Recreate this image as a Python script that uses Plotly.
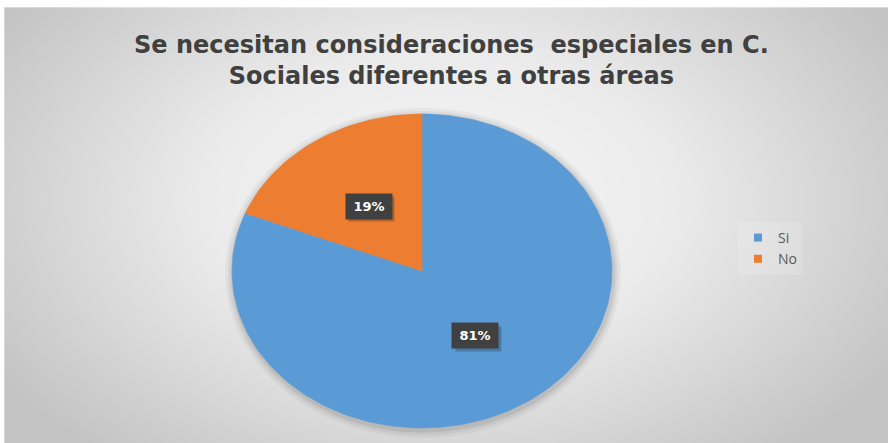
import numpy as np
import plotly.graph_objects as go

# Data
labels = ["Si", "No"]
values = [81, 19]
colors = ["#5b9bd5", "#ed7d31"]
title_text = "Se necesitan consideraciones  especiales en C.<br>Sociales diferentes a otras áreas"

W, H = 888, 443
# Chart panel (pixel coordinates, y downward)
PX0, PX1, PY0, PY1 = 8, 888, 11, 443
# Pie ellipse geometry
CX, CY, RX, RY = 422, 271, 190, 157

fig = go.Figure()

# Radial gradient background of the chart panel
nx, ny = 120, 60
gx = np.linspace(PX0, PX1, nx)
gy = np.linspace(PY0, PY1, ny)
GX, GY = np.meshgrid(gx, gy)
dist = np.sqrt(((GX - 440) / 520.0) ** 2 + ((GY - 200) / 330.0) ** 2)
dist = np.clip(dist, 0, 1)
fig.add_trace(go.Heatmap(
    z=dist, x=gx, y=gy, zmin=0, zmax=1, zsmooth="best",
    colorscale=[[0, "#f7f7f7"], [0.45, "#ebebeb"], [1, "#c4c4c4"]],
    showscale=False, hoverinfo="skip",
))

# Soft shadow under the pie
t_all = np.linspace(0, 2 * np.pi, 200)
for grow, alpha in [(8, 0.04), (5, 0.05), (2.5, 0.07)]:
    fig.add_trace(go.Scatter(
        x=CX + 1 + (RX + grow) * np.sin(t_all),
        y=CY + 2 + (RY + grow) * np.cos(t_all),
        mode="lines", fill="toself", fillcolor=f"rgba(0,0,0,{alpha})",
        line=dict(width=0), hoverinfo="skip", showlegend=False,
    ))

# Pie slices: start at 12 o'clock, clockwise
total = float(sum(values))
start = 0.0
mids = []
for lab, val, col in zip(labels, values, colors):
    sweep = 2 * np.pi * val / total
    t = np.linspace(start, start + sweep, max(int(200 * val / total), 8))
    xs = np.concatenate([[CX], CX + RX * np.sin(t), [CX]])
    ys = np.concatenate([[CY], CY - RY * np.cos(t), [CY]])
    fig.add_trace(go.Scatter(
        x=xs, y=ys, mode="lines", fill="toself", fillcolor=col,
        line=dict(width=0.6, color=col), hoverinfo="skip", showlegend=False,
    ))
    mids.append(start + sweep / 2)
    start += sweep

# Legend entries
for lab, col in zip(labels, colors):
    fig.add_trace(go.Scatter(
        x=[None], y=[None], mode="markers", name=lab,
        marker=dict(symbol="square", size=8, color=col),
    ))

# Percentage labels in dark boxes at half radius, with a drop shadow
BW, BH = 46, 25
for val, m in zip(values, mids):
    lx = CX + 0.5 * RX * np.sin(m)
    ly = CY - 0.5 * RY * np.cos(m)
    pct = f"{round(100 * val / total)}%"
    fig.add_shape(
        type="rect", xref="x", yref="y",
        x0=lx - BW / 2 + 3, x1=lx + BW / 2 + 3, y0=ly - BH / 2 + 3, y1=ly + BH / 2 + 3,
        fillcolor="rgba(0,0,0,0.22)", line=dict(width=0), layer="above",
    )
    fig.add_annotation(
        x=lx, y=ly, xref="x", yref="y", text=f"<b>{pct}</b>",
        showarrow=False, font=dict(family="DejaVu Sans", size=13, color="#ffffff"),
        bgcolor="#404040", width=BW - 2, height=BH - 2, borderpad=1,
    )

# Title
fig.add_annotation(
    x=451, y=60, xref="x", yref="y", text=f"<b>{title_text}</b>",
    showarrow=False, font=dict(family="DejaVu Sans", size=24, color="#404040"),
    align="center",
)

fig.update_layout(
    width=W, height=H,
    margin=dict(l=0, r=0, t=0, b=0),
    paper_bgcolor="#ffffff", plot_bgcolor="rgba(0,0,0,0)",
    xaxis=dict(range=[0, W], visible=False, fixedrange=True),
    yaxis=dict(range=[H, 0], visible=False, fixedrange=True),
    legend=dict(
        x=738 / W, y=1 - 222 / H, xanchor="left", yanchor="top",
        font=dict(family="Open Sans", size=14, color="#595959"),
        bgcolor="rgba(255,255,255,0.15)", itemwidth=30, tracegroupgap=0,
    ),
    showlegend=True,
)

fig.write_html("out.html")
